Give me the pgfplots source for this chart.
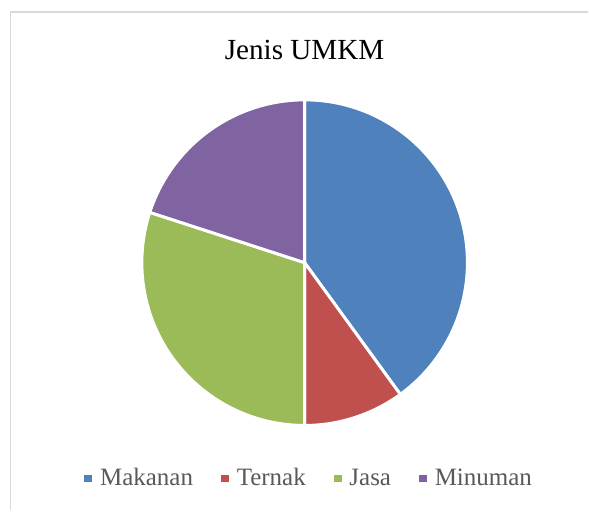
\documentclass[border=0pt]{standalone}
\usepackage{pgfplots}
\usepackage{pgfplotstable}
\pgfplotsset{compat=1.18}
\usepackage{fontspec}
\setmainfont{Liberation Serif}
\definecolor{cMak}{HTML}{4F81BD}
\definecolor{cTer}{HTML}{C0504D}
\definecolor{cJas}{HTML}{9BBB59}
\definecolor{cMin}{HTML}{8064A2}
\definecolor{legtext}{HTML}{595959}
\definecolor{framegray}{HTML}{D9D9D9}

% share of each kind of UMKM (%)
\pgfplotstableread{
name    value color
Makanan 40    cMak
Ternak  10    cTer
Jasa    30    cJas
Minuman 20    cMin
}\piedata

\begin{document}
\begin{tikzpicture}
\begin{axis}[
    width=294.5pt, height=255.5pt,
    scale only axis,
    xmin=0, xmax=589, ymin=0, ymax=511,
    hide axis,
    clip=false,
    legend columns=4,
    legend style={at={(axis cs:310.5,32)}, anchor=center, draw=none,
        font=\fontsize{12.5}{14}\selectfont, text=legtext,
        /tikz/every odd column/.append style={column sep=2pt},
        /tikz/every even column/.append style={column sep=12pt}},
    legend image code/.code={%
        \fill[#1] (0pt,-1.75pt) rectangle (3.5pt,1.75pt);},
]
\path (axis cs:0,0) rectangle (axis cs:589,511);
\draw[framegray, line width=0.75pt] (axis cs:10.5,0) -- (axis cs:10.5,499) -- (axis cs:589,499);

\pgfplotsextra{%
  \pgfplotstablegetrowsof{\piedata}%
  \pgfmathtruncatemacro\lastrow{\pgfplotsretval-1}%
  \gdef\pieangle{90}%
  \foreach \i in {0,...,\lastrow}{%
    \pgfplotstablegetelem{\i}{value}\of\piedata \let\pieval\pgfplotsretval
    \pgfplotstablegetelem{\i}{color}\of\piedata \let\piecol\pgfplotsretval
    \pgfmathsetmacro\endangle{\pieangle-3.6*\pieval}%
    \filldraw[fill=\piecol, draw=white, line width=1.5pt, line join=round]
      (axis cs:305,248) -- ++(\pieangle:81.5pt)
      arc[start angle=\pieangle, end angle=\endangle, radius=81.5pt] -- cycle;
    \xdef\pieangle{\endangle}%
  }%
}

\node[anchor=base, font=\fontsize{14.6}{17}\selectfont] at (axis cs:305,451) {Jenis UMKM};

\addlegendimage{cMak}\addlegendentry{Makanan}
\addlegendimage{cTer}\addlegendentry{Ternak}
\addlegendimage{cJas}\addlegendentry{Jasa}
\addlegendimage{cMin}\addlegendentry{Minuman}
\end{axis}
\end{tikzpicture}
\end{document}
